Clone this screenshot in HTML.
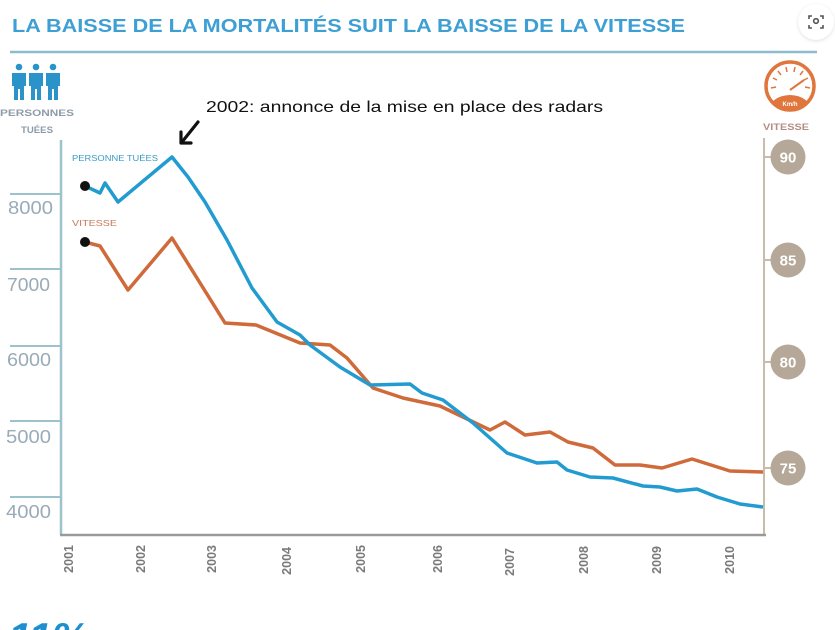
<!DOCTYPE html>
<html><head><meta charset="utf-8"><style>
html,body{margin:0;padding:0;background:#fff;}
svg{display:block;font-family:"Liberation Sans",Arial,sans-serif;}
</style></head><body>
<svg width="835" height="630" viewBox="0 0 835 630" xmlns="http://www.w3.org/2000/svg">
<defs>
<clipPath id="gc"><circle cx="790" cy="86" r="23"/></clipPath>
<filter id="sh" x="-50%" y="-50%" width="200%" height="200%"><feGaussianBlur stdDeviation="1.5"/></filter>
</defs>
<rect width="835" height="630" fill="#ffffff"/>
<!-- Title -->
<text x="12" y="32" font-size="18.5" font-weight="bold" fill="#3d9fd4" textLength="673" lengthAdjust="spacingAndGlyphs">LA BAISSE DE LA MORTALITÉS SUIT LA BAISSE DE LA VITESSE</text>
<line x1="10" y1="52" x2="817" y2="52" stroke="#8dbccf" stroke-width="2.5"/>
<!-- scan button -->
<circle cx="816" cy="23" r="18" fill="#ccc" filter="url(#sh)" opacity="0.6"/>
<circle cx="816" cy="22" r="18" fill="#fff"/>
<g stroke="#555" stroke-width="1.6" fill="none">
<path d="M809 19v-3h3M820 16h3v3M823 25v3h-3M812 28h-3v-3"/>
<circle cx="816" cy="21" r="2.3"/>
</g>
<!-- people icon -->
<g fill="#2a93c9">
<circle cx="19" cy="67" r="3.3"/><circle cx="36" cy="67" r="3.3"/><circle cx="53" cy="67" r="3.3"/>
<path d="M12 73h14v13h-2v14h-4v-11h-2v11h-4v-14h-2z"/>
<path d="M29 73h14v13h-2v14h-4v-11h-2v11h-4v-14h-2z"/>
<path d="M46 73h14v13h-2v14h-4v-11h-2v11h-4v-14h-2z"/>
</g>
<text x="37" y="116" font-size="9.5" font-weight="bold" fill="#8e9ca8" text-anchor="middle" textLength="74" lengthAdjust="spacingAndGlyphs">PERSONNES</text>
<text x="37" y="133" font-size="9.5" font-weight="bold" fill="#8e9ca8" text-anchor="middle" textLength="32" lengthAdjust="spacingAndGlyphs">TUÉES</text>
<!-- speedometer icon -->
<circle cx="790" cy="86" r="24" fill="none" stroke="#e0763c" stroke-width="3.5"/>
<g clip-path="url(#gc)"><ellipse cx="790" cy="112" rx="22" ry="17" fill="#e0763c"/></g>
<g stroke="#e0763c" stroke-width="1.5">
<line x1="771" y1="88" x2="776" y2="87"/><line x1="773" y1="78" x2="777" y2="80"/>
<line x1="778" y1="71" x2="781" y2="75"/><line x1="786" y1="67" x2="787" y2="72"/>
<line x1="795" y1="67" x2="794" y2="72"/><line x1="803" y1="71" x2="800" y2="75"/>
<line x1="808" y1="78" x2="804" y2="80"/><line x1="810" y1="88" x2="805" y2="87"/>
</g>
<line x1="790" y1="90" x2="804" y2="80" stroke="#e0763c" stroke-width="2"/>
<text x="790" y="106" font-size="6" font-weight="bold" fill="#fff" text-anchor="middle">Km/h</text>
<text x="786" y="130" font-size="9.5" font-weight="bold" fill="#b38e86" text-anchor="middle" textLength="46" lengthAdjust="spacingAndGlyphs">VITESSE</text>
<!-- annotation -->
<text x="206" y="112" font-size="16" fill="#111" textLength="397" lengthAdjust="spacingAndGlyphs">2002: annonce de la mise en place des radars</text>
<g stroke="#111" stroke-width="3.2" fill="none" stroke-linecap="round" stroke-linejoin="round">
<line x1="198" y1="122" x2="182" y2="142"/>
<path d="M181 132v11h10"/>
</g>
<!-- axes -->
<line x1="61" y1="140" x2="61" y2="535" stroke="#9cc3cc" stroke-width="2.5"/>
<line x1="764" y1="138" x2="764" y2="535" stroke="#c9bcab" stroke-width="2"/>
<line x1="60" y1="535" x2="766" y2="535" stroke="#9a9a9a" stroke-width="2.5"/>
<!-- left ticks -->
<g stroke="#9cc3cc" stroke-width="2">
<line x1="10" y1="194" x2="61" y2="194"/><line x1="10" y1="269" x2="61" y2="269"/>
<line x1="10" y1="346" x2="61" y2="346"/><line x1="10" y1="421" x2="61" y2="421"/>
<line x1="10" y1="497" x2="61" y2="497"/>
</g>
<g font-size="18" fill="#9aabb8">
<text x="8" y="214" textLength="45" lengthAdjust="spacingAndGlyphs">8000</text>
<text x="7" y="291" textLength="43" lengthAdjust="spacingAndGlyphs">7000</text>
<text x="7" y="366" textLength="44" lengthAdjust="spacingAndGlyphs">6000</text>
<text x="6" y="443" textLength="45" lengthAdjust="spacingAndGlyphs">5000</text>
<text x="6" y="518" textLength="45" lengthAdjust="spacingAndGlyphs">4000</text>
</g>
<!-- right axis circles -->
<g stroke="#c9bcab" stroke-width="2">
<line x1="764" y1="157" x2="772" y2="157"/><line x1="764" y1="260" x2="772" y2="260"/>
<line x1="764" y1="362" x2="772" y2="362"/><line x1="764" y1="468" x2="772" y2="468"/>
</g>
<g fill="#b5a898">
<circle cx="788" cy="157" r="17.5"/><circle cx="788" cy="260" r="17.5"/>
<circle cx="788" cy="362" r="17.5"/><circle cx="788" cy="468" r="17.5"/>
</g>
<g font-size="15" font-weight="bold" fill="#fff" text-anchor="middle">
<text x="788" y="162.5">90</text><text x="788" y="265.5">85</text>
<text x="788" y="367.5">80</text><text x="788" y="473.5">75</text>
</g>
<!-- x labels -->
<g font-size="12.5" font-weight="bold" fill="#7a7a7a" text-anchor="end">
<text transform="translate(73,545) rotate(-90)">2001</text>
<text transform="translate(145,545) rotate(-90)">2002</text>
<text transform="translate(216,545) rotate(-90)">2003</text>
<text transform="translate(291,547) rotate(-90)">2004</text>
<text transform="translate(365,545) rotate(-90)">2005</text>
<text transform="translate(442,545) rotate(-90)">2006</text>
<text transform="translate(514,548) rotate(-90)">2007</text>
<text transform="translate(588,546) rotate(-90)">2008</text>
<text transform="translate(661,546) rotate(-90)">2009</text>
<text transform="translate(734,546) rotate(-90)">2010</text>
</g>
<!-- legend labels -->
<text x="72" y="161" font-size="8" fill="#3a9cc6" textLength="86" lengthAdjust="spacingAndGlyphs">PERSONNE TUÉES</text>
<text x="72" y="226" font-size="8.5" fill="#c57a58" textLength="45" lengthAdjust="spacingAndGlyphs">VITESSE</text>
<!-- series -->
<polyline fill="none" stroke="#cf6a3a" stroke-width="3.5" stroke-linejoin="round" points="85,242 100,246 128,290 172,238 225,323 256,325 300,343 330,345 347,358 373,388 403,398 440,406 490,430 505,422 525,435 550,432 568,442 593,448 615,465 640,465 662,468 692,459 730,471 763,472"/>
<polyline fill="none" stroke="#229cd0" stroke-width="3.5" stroke-linejoin="round" points="85,186 100,193 105,183 118,202 172,157 188,177 205,202 227,240 252,288 277,322 300,335 310,345 340,367 370,385 410,384 422,393 443,400 473,423 507,453 537,463 557,462 567,470 590,477 613,478 643,486 660,487 677,491 697,489 717,497 740,504 763,507"/>
<circle cx="85" cy="186" r="5" fill="#111"/>
<circle cx="85" cy="242" r="5" fill="#111"/>
<!-- bottom cut-off text -->
<text x="8" y="652" font-size="42" font-weight="bold" font-style="italic" fill="#1d8fd0">11%</text>
</svg>
</body></html>
